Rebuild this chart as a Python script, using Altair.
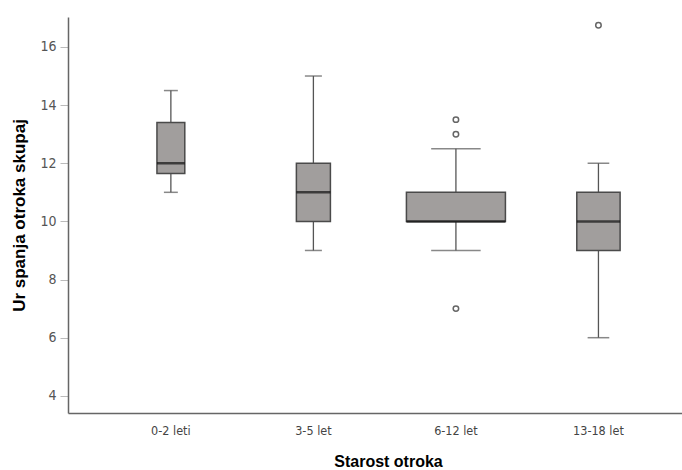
import altair as alt
import pandas as pd

categories = ["0-2 leti", "3-5 let", "6-12 let", "13-18 let"]
lower_whisker = [11.0, 9.0, 9.0, 6.0]
q1 = [11.65, 10.0, 10.0, 9.0]
median = [12.0, 11.0, 10.0, 10.0]
q3 = [13.4, 12.0, 11.0, 11.0]
upper_whisker = [14.5, 15.0, 12.5, 12.0]
n_cases = [9, 11, 32, 14]

outlier_group = ["6-12 let", "6-12 let", "6-12 let", "13-18 let"]
outlier_value = [13.5, 13.0, 7.0, 16.75]

y_ticks = [4, 6, 8, 10, 12, 14, 16]

box_df = pd.DataFrame({
    "group": categories, "lo": lower_whisker, "q1": q1, "med": median,
    "q3": q3, "hi": upper_whisker, "n": n_cases,
})
out_df = pd.DataFrame({"group": outlier_group, "value": outlier_value})

label_font = "DejaVu Sans Condensed, Liberation Sans, sans-serif"

xscale = alt.Scale(domain=categories, paddingInner=0, paddingOuter=0.154, align=0.72)
yscale = alt.Scale(domain=[3.41, 17.03], nice=False, zero=False)
sscale = alt.Scale(domain=[0, 32], range=[0, 99])

x_enc = alt.X("group:N", scale=xscale, sort=categories, title="Starost otroka",
              axis=alt.Axis(labelAngle=0, ticks=False, labelPadding=11,
                            labelFontSize=12.5, labelColor="#444",
                            labelFont=label_font,
                            titleFontSize=16, titleFontWeight="bold",
                            titleFont="Liberation Sans", titleColor="#000",
                            titlePadding=17, titleX=320,
                            domainColor="#666", domainWidth=1.5))
y_axis = alt.Axis(values=y_ticks, grid=False, tickColor="#bbbbbb", tickSize=8,
                  labelPadding=4, labelFontSize=14, labelColor="#555",
                  labelFont=label_font,
                  titleFontSize=17, titleFontWeight="bold", titleFont="Liberation Sans",
                  titleColor="#000", titlePadding=11, domainColor="#666", domainWidth=1.5)

base = alt.Chart(box_df)

whisker = base.mark_rule(color="#555555", strokeWidth=1.3).encode(
    x=x_enc,
    y=alt.Y("lo:Q", scale=yscale, axis=y_axis, title="Ur spanja otroka skupaj"),
    y2="hi:Q",
)

caps_lo = base.transform_calculate(cap="datum.n / 2").mark_tick(
    color="#555555", thickness=1.5).encode(
    x=alt.X("group:N", scale=xscale, sort=categories),
    y=alt.Y("lo:Q", scale=yscale),
    size=alt.Size("cap:Q", scale=sscale, legend=None),
)
caps_hi = base.transform_calculate(cap="datum.n / 2").mark_tick(
    color="#555555", thickness=1.5).encode(
    x=alt.X("group:N", scale=xscale, sort=categories),
    y=alt.Y("hi:Q", scale=yscale),
    size=alt.Size("cap:Q", scale=sscale, legend=None),
)

box = base.mark_bar(fill="#a19e9d", stroke="#4a4a4a", strokeWidth=1.5).encode(
    x=alt.X("group:N", scale=xscale, sort=categories),
    y=alt.Y("q1:Q", scale=yscale),
    y2="q3:Q",
    size=alt.Size("n:Q", scale=sscale, legend=None),
)

med = base.mark_tick(color="#111111", thickness=2.5).encode(
    x=alt.X("group:N", scale=xscale, sort=categories),
    y=alt.Y("med:Q", scale=yscale),
    size=alt.Size("n:Q", scale=sscale, legend=None),
)

outliers = alt.Chart(out_df).mark_point(shape="circle", filled=False, color="#666666",
                                        strokeWidth=1.5, size=30, opacity=1).encode(
    x=alt.X("group:N", scale=xscale, sort=categories),
    y=alt.Y("value:Q", scale=yscale),
)

chart = alt.layer(whisker, caps_lo, caps_hi, box, med, outliers).properties(
    width=614, height=396,
    autosize=alt.AutoSizeParams(type="none"),
    padding={"left": 68, "top": 17, "right": 0, "bottom": 57},
    background="white",
).configure_view(stroke=None)

chart.save("out.html", embed_options={"renderer": "svg", "actions": False})
